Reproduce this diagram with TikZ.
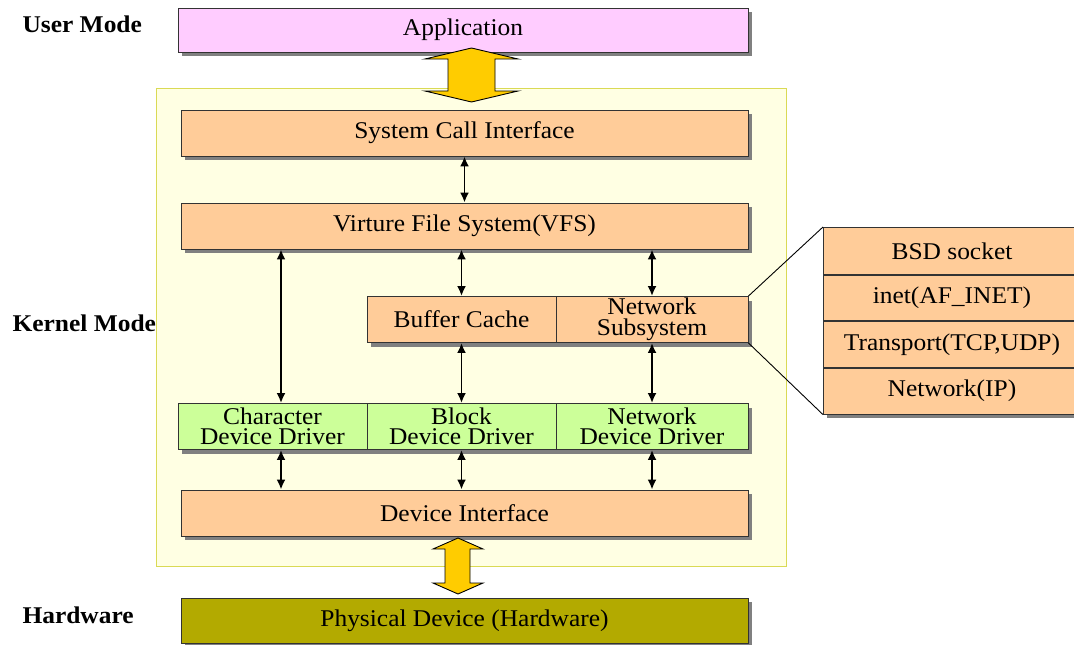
\documentclass[tikz,border=0pt]{standalone}
\usepackage{fontspec}
\setmainfont[FakeStretch=1.06]{Liberation Serif}
\usetikzlibrary{shadows,arrows.meta}
\definecolor{appfill}{HTML}{FFCCFF}
\definecolor{kfill}{HTML}{FFCC99}
\definecolor{gfill}{HTML}{CCFF99}
\definecolor{hwfill}{HTML}{B3AA00}
\definecolor{panelfill}{HTML}{FFFFE3}
\definecolor{paneldraw}{HTML}{DADA55}
\definecolor{bigarrow}{HTML}{FFCC00}
\tikzset{
  box/.style={draw=black!80, line width=0.9pt, inner sep=0pt, align=center,
    font=\fontsize{24}{20.5}\selectfont,
    drop shadow={shadow xshift=4pt, shadow yshift=-4pt, fill=black!50, opacity=1}},
  kbox/.style={box, fill=kfill},
  gbox/.style={box, fill=gfill},
  twoline/.style={text depth=0pt},
  modelabel/.style={font=\fontsize{24}{24}\selectfont\bfseries, anchor=west},
  link/.style={line width=1.9pt, {Latex[length=10pt,width=9pt]}-{Latex[length=10pt,width=9pt]}},
  fatarrow/.style={fill=bigarrow, draw=black, line width=0.9pt},
  zoomline/.style={draw=black, line width=0.9pt}
}
\begin{document}
\begin{tikzpicture}[x=1pt,y=-1pt]
\useasboundingbox (0,0) rectangle (1074,645);

% mode labels
\node[modelabel] (um) at (19,24) {User Mode};
\node[modelabel] (km) at (9,323) {Kernel Mode};
\node[modelabel] (hw) at (19,615) {Hardware};

% kernel area
\draw[fill=panelfill, draw=paneldraw, line width=1pt] (156,88) rectangle (786,566);

% boxes
\node[box, fill=appfill, minimum width=570pt, minimum height=44pt] (app) at (463,30) {Application};
\node[kbox, minimum width=567pt, minimum height=46pt] (sci) at (464.5,133) {System Call Interface};
\node[kbox, minimum width=567pt, minimum height=46pt] (vfs) at (464.5,226) {Virture File System(VFS)};
\node[kbox, minimum width=189pt, minimum height=46pt] (buf) at (461.5,319.5) {Buffer Cache};
\node[kbox, minimum width=192pt, minimum height=46pt] (nets) at (652,319.5) {Network\\Subsystem};
\node[gbox, minimum width=189pt, minimum height=46pt] (cdd) at (272.5,426.5) {Character\\Device Driver};
\node[gbox, minimum width=189pt, minimum height=46pt] (bdd) at (461.5,426.5) {Block\\Device Driver};
\node[gbox, minimum width=192pt, minimum height=46pt] (ndd) at (652,426.5) {Network\\Device Driver};
\node[kbox, minimum width=567pt, minimum height=46pt] (di) at (464.5,513) {Device Interface};
\node[box, fill=hwfill, minimum width=567pt, minimum height=45pt] (pd) at (464.5,620.5) {Physical Device (Hardware)};

% network stack detail
\node[kbox, minimum width=257pt, minimum height=47pt, anchor=north west] (bsd) at (823,227) {BSD socket};
\node[kbox, minimum width=257pt, minimum height=45pt, anchor=north west] (inet) at (bsd.south west) {inet(AF\_INET)};
\node[kbox, minimum width=257pt, minimum height=46pt, anchor=north west] (tr) at (inet.south west) {Transport(TCP,UDP)};
\node[kbox, minimum width=257pt, minimum height=46pt, anchor=north west] (ip) at (tr.south west) {Network(IP)};
\draw[zoomline] (nets.north east) -- (bsd.north west);
\draw[zoomline] (nets.south east) -- (ip.south west);

% thin double arrows
\coordinate (c1) at (281,0);
\draw[link] (sci.south) -- (vfs.north);
\draw[link] (c1 |- vfs.south) -- (c1 |- cdd.north);
\draw[link] (vfs.south -| buf.north) -- (buf.north);
\draw[link] (vfs.south -| nets.north) -- (nets.north);
\draw[link] (buf.south) -- (bdd.north);
\draw[link] (nets.south) -- (ndd.north);
\draw[link] (c1 |- cdd.south) -- (c1 |- di.north);
\draw[link] (bdd.south) -- (bdd.south |- di.north);
\draw[link] (ndd.south) -- (ndd.south |- di.north);

% wide double arrows
\draw[fatarrow] (471.5,48) -- (518,59) -- (495,59) -- (495,91) -- (518,91) -- (471.5,102)
  -- (425,91) -- (448,91) -- (448,59) -- (425,59) -- cycle;
\draw[fatarrow] (458,538) -- (483,549) -- (470,549) -- (470,583) -- (483,583) -- (458,594)
  -- (433,583) -- (445,583) -- (445,549) -- (433,549) -- cycle;
\end{tikzpicture}
\end{document}
